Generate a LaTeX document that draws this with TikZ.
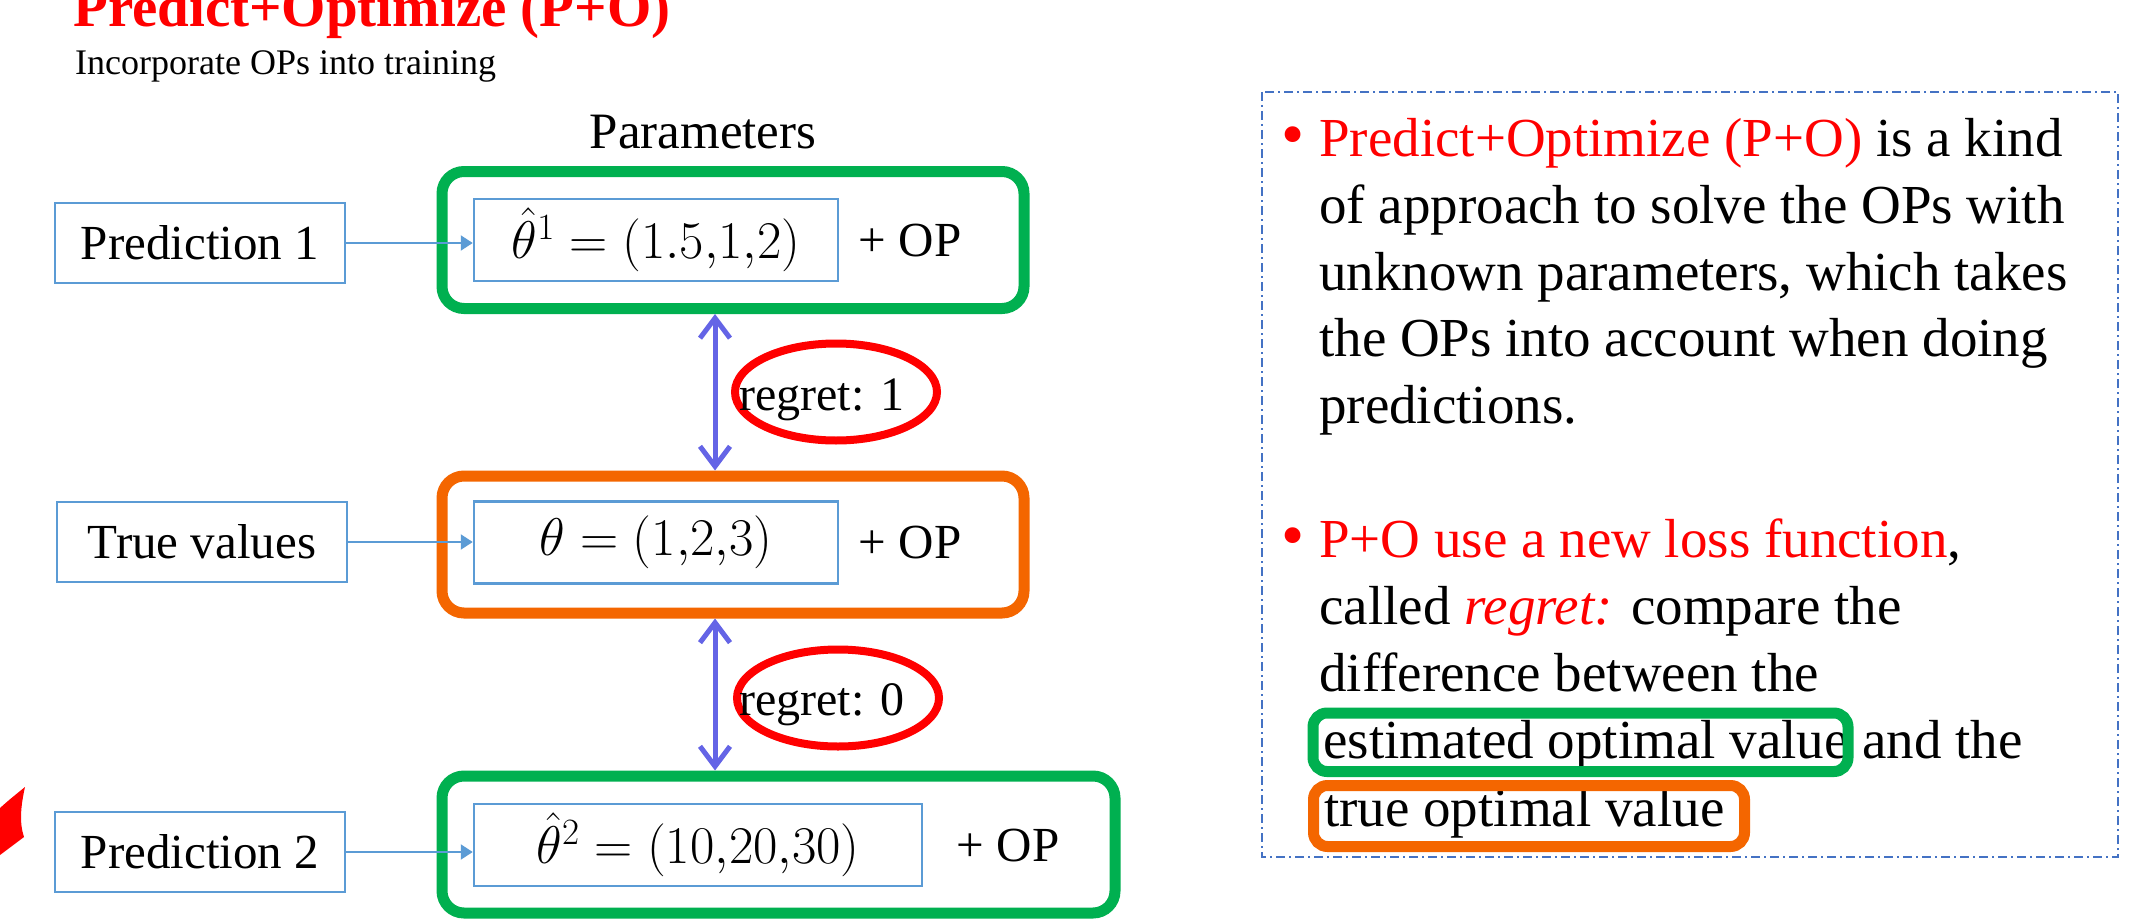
\documentclass[tikz,border=0pt]{standalone}
\usepackage{fix-cm}
\usepackage{fontspec}
\setmainfont{Liberation Serif}
\usetikzlibrary{arrows.meta,shapes.geometric}
\definecolor{pgreen}{RGB}{0,176,80}
\definecolor{porange}{RGB}{244,102,0}
\definecolor{pblue}{RGB}{91,155,213}
\definecolor{pdash}{RGB}{68,114,196}
\definecolor{parrow}{RGB}{100,100,230}
\begin{document}
\begin{tikzpicture}[x=1pt,y=-1pt,
  lbox/.style={draw=pblue,line width=2.5pt,minimum width=290pt,minimum height=80pt,inner sep=0pt,font=\fontsize{49}{58}\selectfont},
  ibox/.style={draw=pblue,line width=2.5pt,minimum height=82pt,inner sep=0pt,font=\fontsize{53}{63}\selectfont},
  obox/.style={line width=11pt,rounded corners=22pt,minimum height=137pt,inner sep=0pt},
  optxt/.style={inner sep=0pt,font=\fontsize{49}{58}\selectfont},
  feed/.style={draw=pblue,line width=2pt,-{Triangle[length=12pt,width=15pt]}},
  regarrow/.style={draw=parrow,line width=5pt,line cap=round,{Straight Barb[length=20pt,width=30pt]}-{Straight Barb[length=20pt,width=30pt]}},
  regell/.style={ellipse,draw=red,line width=8pt,minimum width=202pt,minimum height=97pt,inner sep=0pt},
  regtxt/.style={inner sep=0pt,anchor=base,font=\fontsize{48}{57}\selectfont},
  rtxt/.style={inner sep=0pt,anchor=base west,font=\fontsize{55}{66}\selectfont},
  bul/.style={inner sep=0pt,anchor=base west,text=red,font=\fontsize{66}{70}\selectfont},
  hlbox/.style={line width=11pt,rounded corners=14pt}
]
\useasboundingbox (0,0) rectangle (2143,923);
\fill[white] (0,0) rectangle (2143,923);

% titles
\node[font=\bfseries\fontsize{57}{68}\selectfont,text=red,anchor=base west,inner sep=0pt] (title) at (73,27) {Predict+Optimize (P+O)};
\node[font=\fontsize{36}{43}\selectfont,anchor=base west,inner sep=0pt] (sub) at (75,75) {Incorporate OPs into training};
\node[font=\fontsize{51}{61}\selectfont,anchor=base,inner sep=0pt] (par) at (703,148) {Parameters};

% outer rounded boxes
\node[obox,draw=pgreen,minimum width=582pt] (o1) at (733,240) {};
\node[obox,draw=porange,minimum width=582pt] (o2) at (733,544.5) {};
\node[obox,draw=pgreen,minimum width=673pt] (o3) at (778.5,844.5) {};

% inner boxes
\node[ibox,minimum width=364pt] (i1) at (656,240) {$\hat{\theta}^{1} = (1.5{,}1{,}2)$};
\node[ibox,minimum width=364pt] (i2) at (656,542.5) {$\theta = (1{,}2{,}3)$};
\node[ibox,minimum width=448pt] (i3) at (698,845) {$\hat{\theta}^{2} = (10{,}20{,}30)$};

\node[optxt] (op1) at (910,241) {+ OP};
\node[optxt] (op2) at (910,543) {+ OP};
\node[optxt] (op3) at (1008,846) {+ OP};

% left boxes
\node[lbox] (p1) at (200,243) {Prediction 1};
\node[lbox] (tv) at (202,542) {True values};
\node[lbox] (p2) at (200,852) {Prediction 2};

\draw[feed] (p1.east) -- (p1.east -| i1.west);
\draw[feed] (tv.east) -- (tv.east -| i2.west);
\draw[feed] (p2.east) -- (p2.east -| i3.west);

% regret arrows
\coordinate (ax) at (715,0);
\draw[regarrow] (o1.south -| ax) -- (o2.north -| ax);
\draw[regarrow] (o2.south -| ax) -- (o3.north -| ax);

\node[regell] (e1) at (836,392) {};
\node[regtxt] (t1) at (822,410) {regret: 1};
\node[regell] (e2) at (838,698) {};
\node[regtxt] (t2) at (822,715) {regret: 0};

% red flag
\fill[red] (25,787) .. controls (21,805) and (19,822) .. (24,837) -- (0,855) -- (0,808) .. controls (9,800) .. (25,787);

% right panel
\draw[pdash,line width=2pt,dash pattern=on 9pt off 4pt on 2pt off 4pt] (1262,92) rectangle (2118,857);

\node[bul] (b1) at (1281,156) {•};
\node[rtxt] (r1) at (1319,156) {\textcolor{red}{Predict+Optimize (P+O)} is a kind};
\node[rtxt] (r2) at (1319,223) {of approach to solve the OPs with};
\node[rtxt] (r3) at (1319,290) {unknown parameters, which takes};
\node[rtxt] (r4) at (1319,356) {the OPs into account when doing};
\node[rtxt] (r5) at (1319,423) {predictions.};
\node[bul] (b2) at (1281,557) {•};
\node[rtxt] (r6) at (1319,557) {\textcolor{red}{P+O use a new loss function},};
\node[rtxt] (r7) at (1319,624) {called \textcolor{red}{\textit{regret:}} compare the};
\node[rtxt] (r8) at (1319,691) {difference between the};
\node[rtxt] (r9) at (1323,758) {estimated optimal value and the};
\node[rtxt] (r10) at (1324,826) {true optimal value};

\draw[hlbox,pgreen] (1313,713) rectangle (1848,771.5);
\draw[hlbox,porange] (1313.5,785.5) rectangle (1744.5,846.5);
\end{tikzpicture}
\end{document}
